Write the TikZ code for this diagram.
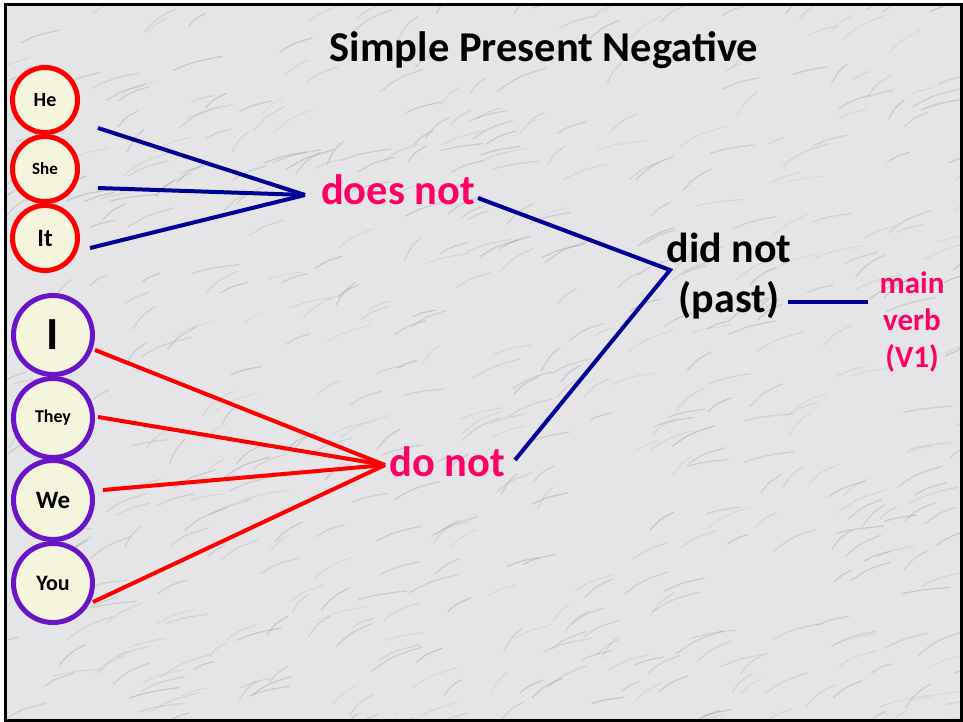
\documentclass[tikz,border=0pt]{standalone}
\usepackage{fontspec}
\setmainfont{Carlito}
\definecolor{marble}{RGB}{229,229,231}
\definecolor{vein}{RGB}{140,142,148}
\definecolor{cream}{RGB}{245,245,222}
\definecolor{ringred}{RGB}{255,0,0}
\definecolor{ringpurple}{RGB}{106,20,200}
\definecolor{navy}{RGB}{0,0,150}
\definecolor{pink}{RGB}{255,0,102}
\tikzset{
  pron/.style={circle, line width=5pt, fill=cream, inner sep=0pt, text=black},
  redc/.style={pron, draw=ringred, minimum size=65pt},
  purc/.style={pron, draw=ringpurple, minimum size=79pt},
  blueline/.style={draw=navy, line width=4pt},
  redline/.style={draw=ringred, line width=4pt},
  big/.style={font=\fontsize{42.5}{50}\selectfont\bfseries},
}
\begin{document}
\begin{tikzpicture}[x=1pt,y=-1pt]
\useasboundingbox (0,0) rectangle (963,722);
\fill[marble] (5,5) rectangle (961,720);
\begin{scope}
\clip (5,5) rectangle (961,720);
\pgfmathsetseed{11}
\foreach \i in {1,...,550}{
  \pgfmathsetmacro\xx{rnd*980-10}
  \pgfmathsetmacro\yy{rnd*740}
  \pgfmathsetmacro\dx{15+rnd*35}
  \pgfmathsetmacro\dy{-(6+rnd*18)}
  \pgfmathsetmacro\op{0.12+rnd*0.22}
  \draw[vein, opacity=\op, line width=1.2pt, line cap=round] (\xx,\yy) .. controls +(\dx*0.4,\dy*0.6) .. +(\dx,\dy);
}
\end{scope}
\draw[line width=3pt] (5,5) rectangle (961,720);

\node[big] (title) at (544,50) {Simple Present Negative};

% pronoun circles
\node[redc, font=\fontsize{20}{24}\selectfont\bfseries] (he) at (45,100) {He};
\node[redc, font=\fontsize{17}{20}\selectfont\bfseries] (she) at (45,169) {She};
\node[redc, font=\fontsize{25}{30}\selectfont\bfseries] (it) at (45,238) {It};
\node[purc, font=\fontsize{46}{50}\selectfont\bfseries] (i) at (53,335) {I};
\node[purc, font=\fontsize{18}{22}\selectfont\bfseries] (they) at (53,418) {They};
\node[purc, font=\fontsize{25}{30}\selectfont\bfseries] (we) at (53,500) {We};
\node[purc, font=\fontsize{22}{26}\selectfont\bfseries] (you) at (53,583) {You};

% central words
\node[big, text=pink, inner sep=0pt] (does) at (398,190) {does not};
\node[big, text=pink, inner sep=0pt] (donot) at (447,462) {do not};
\node[text=black, align=center, inner sep=0pt,
      font=\fontsize{42}{50}\selectfont\bfseries] (did) at (729,276) {did not\\(past)};
\node[text=pink, align=center, inner sep=0pt,
      font=\fontsize{31}{37}\selectfont\bfseries] (main) at (912,322) {main\\verb\\(V1)};

% connector end points
\coordinate (heE) at (98,128);
\coordinate (sheE) at (98,188);
\coordinate (itE) at (90,248);
\coordinate (doesL) at (305,195);
\coordinate (doesR) at (478,198);
\coordinate (didV) at (670,270);
\coordinate (donotR) at (515,460);
\coordinate (donotL) at (385,465);
\coordinate (iE) at (95,350);
\coordinate (theyE) at (98,417);
\coordinate (weE) at (103,490);
\coordinate (youE) at (93,602);
\coordinate (pastR) at (788,302);
\coordinate (mainL) at (868,302);

\draw[blueline] (heE) -- (doesL);
\draw[blueline] (sheE) -- (doesL);
\draw[blueline] (itE) -- (doesL);
\draw[blueline, line join=miter] (doesR) -- (didV) -- (donotR);
\draw[blueline] (pastR) -- (mainL);

\draw[redline] (iE) -- (donotL);
\draw[redline] (theyE) -- (donotL);
\draw[redline] (weE) -- (donotL);
\draw[redline] (youE) -- (donotL);
\end{tikzpicture}
\end{document}
